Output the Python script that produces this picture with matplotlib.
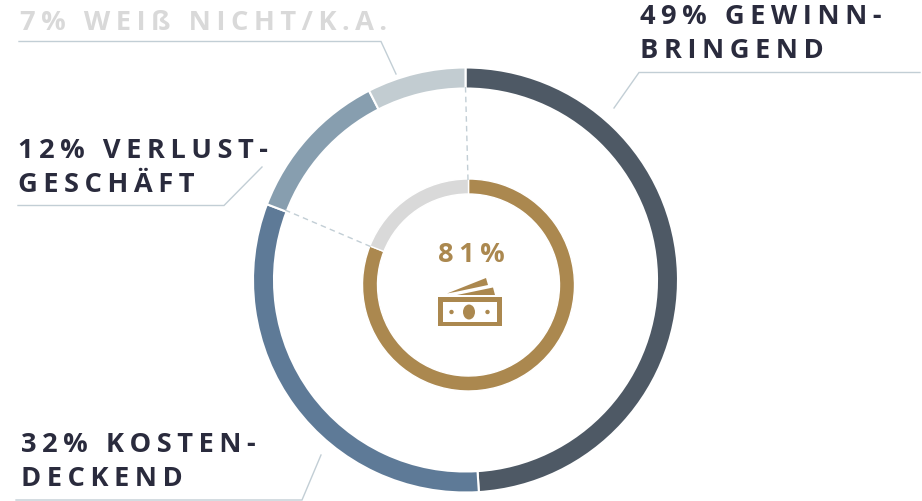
import matplotlib
matplotlib.use('Agg')
import matplotlib.pyplot as plt
from matplotlib.patches import Rectangle, Ellipse, Circle, Polygon

W = 922
H = 502

outer_labels = ['49% GEWINN-\nBRINGEND', '32% KOSTEN-\nDECKEND', '12% VERLUST-\nGESCHÄFT', '7% WEIß NICHT/K.A.']
outer_values = [49, 31.8, 11.7, 7.5]
outer_colors = ['#4e5965', '#5e7a97', '#879eaf', '#c2ccd1']
inner_values = [81, 19]
inner_colors = ['#ab884f', '#d9d9d9']
inner_label = '81%'

DARK = '#2a2b3d'
GOLD = '#ab884f'
LINE = '#c2ced5'
THIN = '\u2009'


# y is measured from the top like in the picture
def py(y):
    return H - y


def spaced(s):
    return '\n'.join(THIN.join(line) for line in s.split('\n'))


# y is the baseline of the last line
def label(x, y, s, color=DARK, size=19.6):
    ax.text(x, py(y), spaced(s), color=color, fontsize=size, fontweight='bold',
            family=['Open Sans', 'DejaVu Sans'], ha='left', va='baseline', linespacing=1.4)


def leader(xs, ys):
    ax.plot(xs, [py(y) for y in ys], color=LINE, lw=1.0, solid_joinstyle='miter')


fig = plt.figure(figsize=(W / 100, H / 100), dpi=100)
ax = fig.add_axes([0, 0, 1, 1])

ax.pie(outer_values, colors=outer_colors, startangle=90, counterclock=False,
       center=(465.5, py(281)), radius=212.5,
       wedgeprops={'width': 21, 'edgecolor': 'white', 'linewidth': 1.5})
ax.pie(inner_values, colors=inner_colors, startangle=90, counterclock=False,
       center=(468.5, py(286)), radius=106,
       wedgeprops={'width': 15, 'edgecolor': 'white', 'linewidth': 1.0})

ax.set_xlim(0, W)
ax.set_ylim(0, H)
ax.set_aspect('equal')
ax.axis('off')

# dashed connectors between the rings
ax.plot([465.5, 468], [py(88), py(181)], color=LINE, lw=1.0, ls=(0, (4, 3)))
ax.plot([285, 374], [py(211), py(249)], color=LINE, lw=1.0, ls=(0, (4, 3)))

# leader lines
leader([19, 381, 396], [42.5, 42.5, 75])
leader([18, 224, 262], [206.5, 206.5, 168])
leader([16, 302, 321], [501, 501, 456])
leader([920, 639, 614], [73.5, 73.5, 109])

label(640, 58, outer_labels[0])
label(21, 486, outer_labels[1])
label(18, 192, outer_labels[2])
label(20, 30, outer_labels[3], color='#d9d9d9')

ax.text(471, py(262), spaced(inner_label), color=GOLD, fontsize=19.6, fontweight='bold',
        family=['Open Sans', 'DejaVu Sans'], ha='center', va='baseline')

# banknote icon
ax.add_patch(Polygon([(447, py(294.5)), (486, py(279)), (488, py(286)), (455, py(293))], color=GOLD, lw=0))
ax.add_patch(Polygon([(457, py(296)), (493, py(288.5)), (495, py(296))], color=GOLD, lw=0))
ax.add_patch(Rectangle((437.5, py(327)), 64.5, 29, color=GOLD, lw=0))
ax.add_patch(Rectangle((443, py(323)), 54, 20, color='white', lw=0))
ax.add_patch(Ellipse((469, py(313)), 12, 15, color=GOLD, lw=0))
ax.add_patch(Circle((451.5, py(313)), 2.2, color=GOLD, lw=0))
ax.add_patch(Circle((487.5, py(313)), 2.2, color=GOLD, lw=0))

fig.savefig('out.png', dpi=100, facecolor='white')
